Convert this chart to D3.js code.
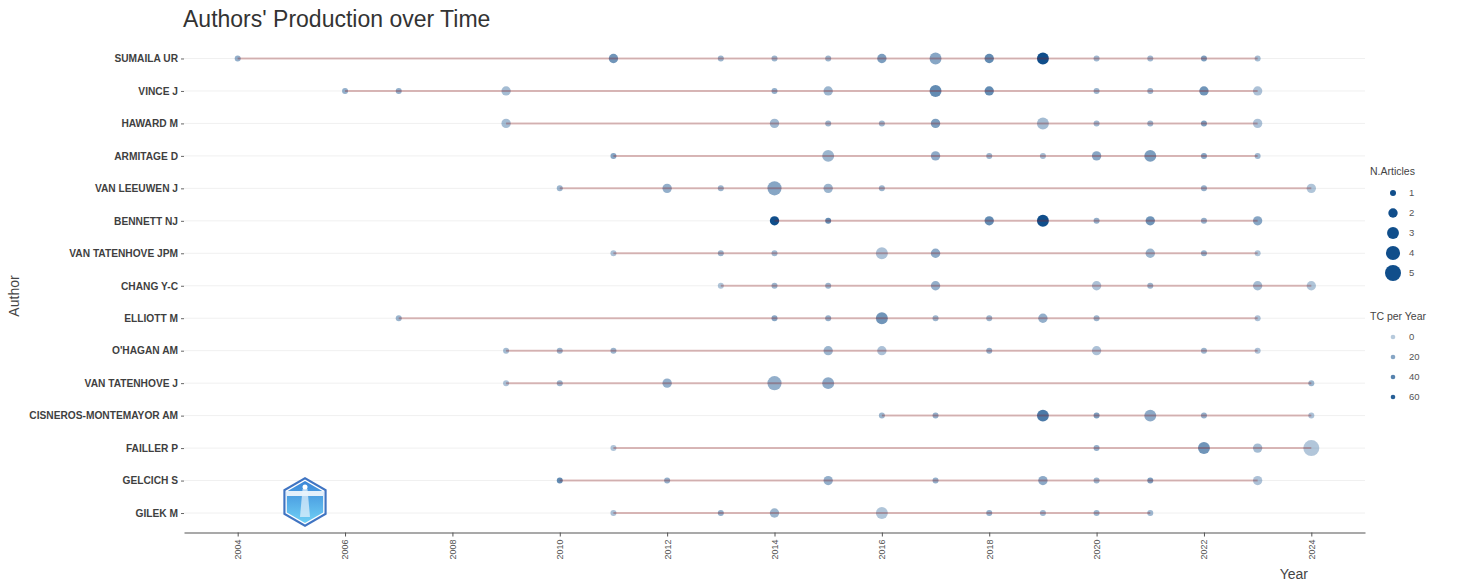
<!DOCTYPE html>
<html>
<head>
<meta charset="utf-8">
<script src="https://cdn.jsdelivr.net/npm/d3@7"></script>
<style>
  html, body { margin: 0; padding: 0; background: #ffffff; }
  svg { display: block; font-family: "Liberation Sans", Arial, Helvetica, sans-serif; }
</style>
</head>
<body>
<svg id="chart" width="1458" height="585"></svg>
<script>
// ---------------- DATA ----------------
const authors = [
  "SUMAILA UR", "VINCE J", "HAWARD M", "ARMITAGE D", "VAN LEEUWEN J",
  "BENNETT NJ", "VAN TATENHOVE JPM", "CHANG Y-C", "ELLIOTT M", "O'HAGAN AM",
  "VAN TATENHOVE J", "CISNEROS-MONTEMAYOR AM", "FAILLER P", "GELCICH S", "GILEK M"
];
const years = [
  [2004, 2011, 2013, 2014, 2015, 2016, 2017, 2018, 2019, 2020, 2021, 2022, 2023],
  [2006, 2007, 2009, 2014, 2015, 2017, 2018, 2020, 2021, 2022, 2023],
  [2009, 2014, 2015, 2016, 2017, 2019, 2020, 2021, 2022, 2023],
  [2011, 2015, 2017, 2018, 2019, 2020, 2021, 2022, 2023],
  [2010, 2012, 2013, 2014, 2015, 2016, 2022, 2024],
  [2014, 2015, 2018, 2019, 2020, 2021, 2022, 2023],
  [2011, 2013, 2014, 2016, 2017, 2021, 2022, 2023],
  [2013, 2014, 2015, 2017, 2020, 2021, 2023, 2024],
  [2007, 2014, 2015, 2016, 2017, 2018, 2019, 2020, 2023],
  [2009, 2010, 2011, 2015, 2016, 2018, 2020, 2022, 2023],
  [2009, 2010, 2012, 2014, 2015, 2024],
  [2016, 2017, 2019, 2020, 2021, 2022, 2024],
  [2011, 2020, 2022, 2023, 2024],
  [2010, 2012, 2015, 2017, 2019, 2020, 2021, 2023],
  [2011, 2013, 2014, 2016, 2018, 2019, 2020, 2021]
];
const articles = [
  [1, 2, 1, 1, 1, 2, 3, 2, 3, 1, 1, 1, 1],
  [1, 1, 2, 1, 2, 3, 2, 1, 1, 2, 2],
  [2, 2, 1, 1, 2, 3, 1, 1, 1, 2],
  [1, 3, 2, 1, 1, 2, 3, 1, 1],
  [1, 2, 1, 4, 2, 1, 1, 2],
  [2, 1, 2, 3, 1, 2, 1, 2],
  [1, 1, 1, 3, 2, 2, 1, 1],
  [1, 1, 1, 2, 2, 1, 2, 2],
  [1, 1, 1, 3, 1, 1, 2, 1, 1],
  [1, 1, 1, 2, 2, 1, 2, 1, 1],
  [1, 1, 2, 4, 3, 1],
  [1, 1, 3, 1, 3, 1, 1],
  [1, 1, 3, 2, 5],
  [1, 1, 2, 1, 2, 1, 1, 2],
  [1, 1, 2, 3, 1, 1, 1, 1]
];
const tcPerYear = [
  [15, 30, 12, 12, 12, 25, 20, 35, 70, 10, 10, 25, 8],
  [15, 15, 8, 15, 12, 35, 35, 12, 12, 30, 5],
  [8, 10, 12, 12, 25, 8, 10, 12, 25, 5],
  [20, 12, 18, 12, 8, 20, 25, 20, 10],
  [12, 15, 12, 20, 12, 12, 15, 3],
  [70, 35, 35, 70, 15, 30, 15, 20],
  [5, 12, 10, 5, 18, 12, 15, 3],
  [3, 12, 12, 15, 5, 12, 8, 3],
  [12, 20, 15, 30, 12, 12, 15, 12, 5],
  [8, 12, 12, 12, 5, 15, 5, 12, 5],
  [5, 12, 15, 15, 18, 12],
  [12, 15, 45, 25, 18, 15, 5],
  [3, 15, 30, 8, 2],
  [35, 15, 15, 15, 18, 12, 25, 5],
  [5, 15, 12, 3, 15, 10, 12, 10]
];
const xTickValues = [2004, 2006, 2008, 2010, 2012, 2014, 2016, 2018, 2020, 2022, 2024];
const sizeBreaks = [1, 2, 3, 4, 5];
const tcBreaks = [0, 20, 40, 60];

// ---------------- BUILD ----------------
const points = [];
authors.forEach((a, i) => {
  years[i].forEach((y, j) => {
    points.push({ author: a, year: y, freq: articles[i][j], tc: tcPerYear[i][j] });
  });
});
const ranges = authors.map((a, i) => ({ author: a, start: d3.min(years[i]), end: d3.max(years[i]) }));

const svg = d3.select("#chart");
const panel = { left: 184, right: 1365, top: 39, bottom: 532.5 };

const x = d3.scaleLinear().domain([2003, 2025]).range([panel.left, panel.right]);
const y = d3.scalePoint().domain(authors).range([panel.top, panel.bottom]).padding(0.6);
const r = d3.scaleSqrt().domain([1, 5]).range([3, 8]);
const alpha = d3.scaleLinear().domain([0, d3.max(points, d => d.tc)]).range([0.3, 1]);

const pointColor = "#104E8B";
const lineColor = "#8B1A1A";

// gridlines
svg.append("g").selectAll("line").data(authors).join("line")
  .attr("x1", panel.left).attr("x2", panel.right)
  .attr("y1", d => y(d)).attr("y2", d => y(d))
  .attr("stroke", "#f0f0f0").attr("stroke-width", 1);

// points
svg.append("g").selectAll("circle").data(points).join("circle")
  .attr("cx", d => x(d.year)).attr("cy", d => y(d.author))
  .attr("r", d => r(d.freq))
  .attr("fill", pointColor).attr("fill-opacity", d => alpha(d.tc));

// lines (drawn over points as in the original)
svg.append("g").selectAll("line").data(ranges).join("line")
  .attr("x1", d => x(d.start)).attr("x2", d => x(d.end))
  .attr("y1", d => y(d.author)).attr("y2", d => y(d.author))
  .attr("stroke", lineColor).attr("stroke-opacity", 0.3).attr("stroke-width", 2);

// x axis
const xAxis = svg.append("g").attr("transform", `translate(0,${panel.bottom})`)
  .call(d3.axisBottom(x).tickValues(xTickValues).tickFormat(d3.format("d")).tickSize(4).tickSizeOuter(0));
xAxis.select(".domain").attr("stroke", "#555").attr("stroke-width", 1.2);
xAxis.selectAll(".tick line").attr("stroke", "#555");
xAxis.selectAll(".tick text")
  .attr("transform", "rotate(-90)")
  .attr("x", -7).attr("y", 0).attr("dy", "0.32em")
  .attr("text-anchor", "end")
  .attr("fill", "#555").attr("font-size", 9)
  .attr("font-family", "'Liberation Sans', Arial, sans-serif");

// y axis
const yAxis = svg.append("g").attr("transform", `translate(${panel.left},0)`)
  .call(d3.axisLeft(y).tickSize(3).tickPadding(3));
yAxis.select(".domain").remove();
yAxis.selectAll(".tick line").attr("stroke", "#666");
yAxis.selectAll(".tick text")
  .attr("fill", "#3f3f3f").attr("font-size", 10.2).attr("font-weight", "bold")
  .attr("font-family", "'Liberation Sans', Arial, sans-serif");

// titles
svg.append("text").attr("x", 183).attr("y", 27)
  .attr("font-size", 23).attr("fill", "#333").text("Authors' Production over Time");
svg.append("text").attr("transform", "translate(19,296) rotate(-90)")
  .attr("text-anchor", "middle").attr("font-size", 14).attr("fill", "#444").text("Author");
svg.append("text").attr("x", 1308).attr("y", 579)
  .attr("text-anchor", "end").attr("font-size", 14).attr("fill", "#444").text("Year");

// legend: N.Articles
const lg1 = svg.append("g");
lg1.append("text").attr("x", 1370).attr("y", 175).attr("font-size", 10.5).attr("fill", "#444").text("N.Articles");
const lgY1 = d3.scalePoint().domain(sizeBreaks).range([193, 273]);
lg1.selectAll("circle").data(sizeBreaks).join("circle")
  .attr("cx", 1393).attr("cy", d => lgY1(d)).attr("r", d => r(d)).attr("fill", pointColor);
lg1.selectAll("text.lab").data(sizeBreaks).join("text").attr("class", "lab")
  .attr("x", 1409).attr("y", d => lgY1(d)).attr("dy", "0.35em")
  .attr("font-size", 9.5).attr("fill", "#555").text(d => d);

// legend: TC per Year
const lg2 = svg.append("g");
lg2.append("text").attr("x", 1370).attr("y", 320).attr("font-size", 10.5).attr("fill", "#444").text("TC per Year");
const lgY2 = d3.scalePoint().domain(tcBreaks).range([337, 397]);
lg2.selectAll("circle").data(tcBreaks).join("circle")
  .attr("cx", 1393).attr("cy", d => lgY2(d)).attr("r", 2.3)
  .attr("fill", pointColor).attr("fill-opacity", d => alpha(d));
lg2.selectAll("text.lab").data(tcBreaks).join("text").attr("class", "lab")
  .attr("x", 1409).attr("y", d => lgY2(d)).attr("dy", "0.35em")
  .attr("font-size", 9.5).attr("fill", "#555").text(d => d);

// logo watermark (decorative hexagon badge)
const defs = svg.append("defs");
const grad = defs.append("linearGradient").attr("id", "logoGrad").attr("x1", 0).attr("y1", 0).attr("x2", 0).attr("y2", 1);
grad.append("stop").attr("offset", "0%").attr("stop-color", "#3a86d8");
grad.append("stop").attr("offset", "100%").attr("stop-color", "#6fd0f5");
const cx = 305, cy = 502;
function hex(R) {
  return d3.range(6).map(k => {
    const a = Math.PI / 180 * (60 * k - 90);
    return [cx + R * Math.cos(a), cy + R * Math.sin(a)];
  });
}
const logo = svg.append("g");
logo.append("polygon").attr("points", hex(25).map(p => p.join(",")).join(" "))
  .attr("fill", "#3f74c2");
logo.append("polygon").attr("points", hex(22.5).map(p => p.join(",")).join(" "))
  .attr("fill", "#ffffff");
logo.append("polygon").attr("points", hex(21).map(p => p.join(",")).join(" "))
  .attr("fill", "url(#logoGrad)");
logo.append("rect").attr("x", cx - 18).attr("y", cy - 11).attr("width", 36).attr("height", 5)
  .attr("fill", "#ffffff").attr("opacity", 0.85);
logo.append("path")
  .attr("d", `M${cx - 2.5},${cy - 13} L${cx + 2.5},${cy - 13} L${cx + 5},${cy + 15} L${cx - 5},${cy + 15} Z`)
  .attr("fill", "#e8f4fc").attr("opacity", 0.7);
logo.append("circle").attr("cx", cx).attr("cy", cy - 15).attr("r", 2.5).attr("fill", "#ffffff");
</script>
</body>
</html>
